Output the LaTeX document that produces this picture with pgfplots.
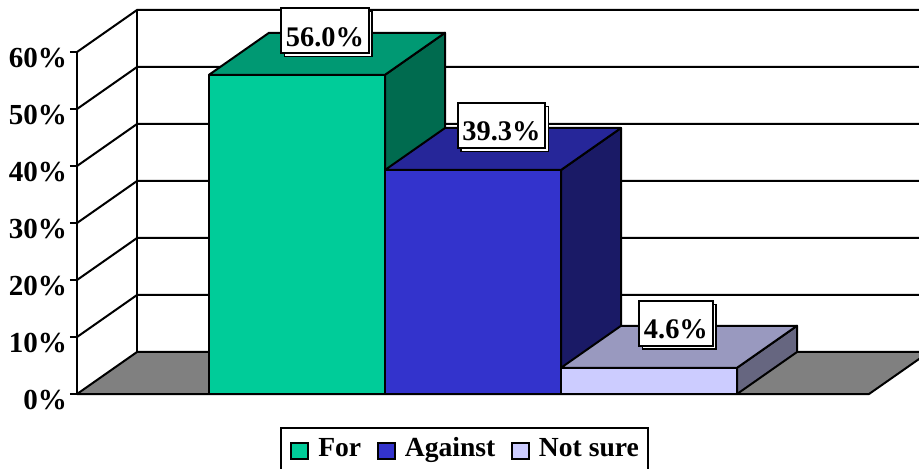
\documentclass[border=0pt]{standalone}
\usepackage{pgfplots}
\pgfplotsset{compat=1.18}
\usepackage{fontspec}
\setmainfont{Liberation Serif}
\usetikzlibrary{shadows}
\definecolor{forfront}{HTML}{00CC99}
\definecolor{fortop}{HTML}{009973}
\definecolor{forside}{HTML}{006B4F}
\definecolor{agfront}{HTML}{3333CC}
\definecolor{agtop}{HTML}{262699}
\definecolor{agside}{HTML}{1A1A66}
\definecolor{nsfront}{HTML}{CCCCFF}
\definecolor{nstop}{HTML}{9999BF}
\definecolor{nsside}{HTML}{666680}
\newcommand{\tickfont}{\fontsize{21.8}{24}\selectfont\bfseries}
\newcommand{\valuefont}{\fontsize{21.3}{24}\selectfont\bfseries}
\newcommand{\legendfont}{\fontsize{20.7}{24}\selectfont\bfseries}
\pgfplotsset{
  wall/.style={draw=black, line width=1.5pt, forget plot, mark=none},
  face/.style={fill=#1, draw=black, line width=1.5pt, line join=round, forget plot, mark=none},
}
\begin{document}
\begin{tikzpicture}
% page frame: 0.75pt per pixel, origin at the front foot of the value axis
\useasboundingbox (-57.75pt,-55.5pt) rectangle (631.5pt,295.5pt);
\begin{axis}[
  scale only axis,
  width=631.5pt, height=256.5pt,
  xmin=-1.25, xmax=3.534, ymin=0, ymax=60,
  clip=false,
  axis x line=none,
  axis y line*=left,
  axis line style={-, line width=1.5pt},
  ytick={0,10,20,30,40,50,60},
  yticklabels={0\%,10\%,20\%,30\%,40\%,50\%,60\%},
  tick align=outside,
  major tick length=5.25pt,
  tick style={line width=1.5pt, black},
  yticklabel style={font=\tickfont, anchor=east, inner sep=0pt, xshift=-2pt, yshift=-4.5pt},
  legend style={
    at={(axis cs:-0.097,-5.85)}, anchor=north west,
    draw=black, line width=1.5pt,
    legend columns=-1,
    font=\legendfont,
    inner xsep=7pt, inner ysep=7pt,
    /tikz/every odd column/.append style={column sep=6.75pt},
    /tikz/every even column/.append style={column sep=11.75pt},
    nodes={inner sep=0pt, anchor=base west, text depth=8pt},
  },
  legend cell align=left,
  legend image code/.code={
    \draw[#1, line width=1.5pt] (0pt,-1.5pt) rectangle (12.75pt,10.5pt);
  },
]
% floor
\addplot[face=gray!100!white] coordinates {(-1.25,0) (-0.909,7.37) (3.591,7.37) (3.25,0)} --cycle;

% side wall and back wall grid
\addplot[wall] coordinates {(-1.25,10) (-0.909,17.37) (3.6,17.37)};
\addplot[wall] coordinates {(-1.25,20) (-0.909,27.37) (3.6,27.37)};
\addplot[wall] coordinates {(-1.25,30) (-0.909,37.37) (3.6,37.37)};
\addplot[wall] coordinates {(-1.25,40) (-0.909,47.37) (3.6,47.37)};
\addplot[wall] coordinates {(-1.25,50) (-0.909,57.37) (3.6,57.37)};
\addplot[wall] coordinates {(-1.25,60) (-0.909,67.37) (3.6,67.37)};
\addplot[wall] coordinates {(-0.909,7.37) (-0.909,67.37)};

% For: 56.0
\addplot[face=forside] coordinates {(0.5,0) (0.841,7.37) (0.841,63.37) (0.5,56)} --cycle;
\addplot[face=fortop] coordinates {(-0.5,56) (0.5,56) (0.841,63.37) (-0.159,63.37)} --cycle;
\addplot[face=forfront] coordinates {(-0.5,0) (0.5,0) (0.5,56) (-0.5,56)} --cycle;

% Against: 39.3
\addplot[face=agside] coordinates {(1.5,0) (1.841,7.37) (1.841,46.67) (1.5,39.3)} --cycle;
\addplot[face=agtop] coordinates {(0.5,39.3) (1.5,39.3) (1.841,46.67) (0.841,46.67)} --cycle;
\addplot[face=agfront] coordinates {(0.5,0) (1.5,0) (1.5,39.3) (0.5,39.3)} --cycle;

% Not sure: 4.6
\addplot[face=nsside] coordinates {(2.5,0) (2.841,7.37) (2.841,11.97) (2.5,4.6)} --cycle;
\addplot[face=nstop] coordinates {(1.5,4.6) (2.5,4.6) (2.841,11.97) (1.841,11.97)} --cycle;
\addplot[face=nsfront] coordinates {(1.5,0) (2.5,0) (2.5,4.6) (1.5,4.6)} --cycle;

% value labels
\addplot[draw=none, mark=none, forget plot,
  point meta=explicit symbolic,
  nodes near coords,
  nodes near coords style={
    anchor=center, font=\valuefont, fill=white, draw=black, line width=1.5pt,
    inner xsep=3.5pt, inner ysep=0pt, text height=28.2pt, text depth=5.5pt,
    copy shadow={shadow xshift=2.5pt, shadow yshift=-2.5pt, fill=white, draw=black, line width=1pt},
  },
] coordinates {
  (0.159,63.7) [56.0\%]
  (1.162,47.1) [39.3\%]
  (2.153,12.4) [4.6\%]
};

\addlegendimage{fill=forfront, draw=black}
\addlegendentry{For}
\addlegendimage{fill=agfront, draw=black}
\addlegendentry{Against}
\addlegendimage{fill=nsfront, draw=black}
\addlegendentry{Not sure}
\end{axis}
\end{tikzpicture}
\end{document}
